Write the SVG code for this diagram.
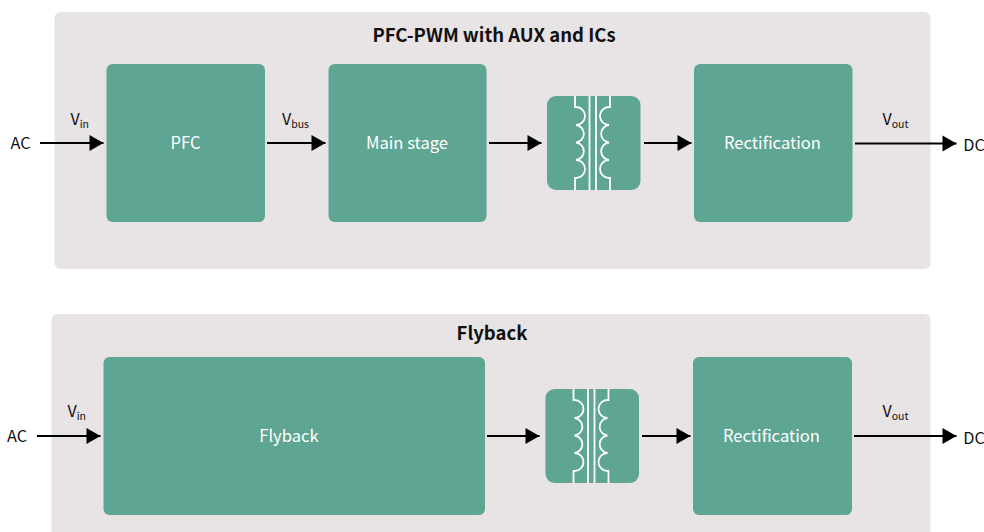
<svg xmlns="http://www.w3.org/2000/svg" width="984" height="532" viewBox="0 0 984 532">
<style>
text{font-family:"Noto Sans CJK SC","Source Sans Pro","Noto Sans",sans-serif;}
.panel{fill:#e8e3e4;}
.block{fill:#5ea593;}
.lbl{font-size:16.6px;fill:#fff;text-anchor:middle;}
.title{font-size:18.5px;font-weight:700;fill:#111;text-anchor:middle;}
.io{font-size:16.300px;fill:#111;text-anchor:middle;}
.v{font-size:16px;fill:#111;}
.sub{font-size:10.5px;}
.wire{stroke:#000;stroke-width:2;fill:none;marker-end:url(#arrow);}
.coil{stroke:#fff;stroke-width:1.800;fill:none;}
</style>
<defs>
<marker id="arrow" markerUnits="userSpaceOnUse" markerWidth="16" markerHeight="18" refX="14" refY="8" orient="auto" overflow="visible"><path d="M0 0L14 8L0 16Z" fill="#000"/></marker>
<g id="xfmr">
<rect width="93.500" height="94" rx="9" class="block"/>
<path class="coil" d="M28 0V11H29A8.800 8.800 0 0 1 29 29A8.800 8.800 0 0 1 29 46.500A8.800 8.800 0 0 1 29 64A8.800 8.800 0 0 1 29 82H28V94"/>
<path class="coil" d="M63 0V11H62A8.800 8.800 0 0 0 62 29A8.800 8.800 0 0 0 62 46.500A8.800 8.800 0 0 0 62 64A8.800 8.800 0 0 0 62 82H63V94"/>
<path class="coil" d="M42.500 0V94M49 0V94"/>
</g>
</defs>
<g id="panel-top"><rect class="panel" x="54.500" y="12" width="876" height="257" rx="6"/><text class="title" x="494" y="42">PFC-PWM with AUX and ICs</text></g>
<g id="panel-bottom"><rect class="panel" x="51.500" y="314" width="879" height="230" rx="6"/><text class="title" x="492" y="340">Flyback</text></g>
<g id="pfc"><rect class="block" x="106.500" y="64" width="158.500" height="158" rx="6"/><text class="lbl" x="185.500" y="149">PFC</text></g>
<g id="main-stage"><rect class="block" x="328.500" y="64" width="158" height="158" rx="6"/><text class="lbl" x="407" y="149">Main stage</text></g>
<g id="transformer-top"><use href="#xfmr" x="547" y="96"/></g>
<g id="rect-top"><rect class="block" x="694" y="64" width="158.500" height="158" rx="6"/><text class="lbl" x="772.500" y="149">Rectification</text></g>
<g id="flyback"><rect class="block" x="103.500" y="357" width="381.500" height="158" rx="6"/><text class="lbl" x="289" y="442">Flyback</text></g>
<g id="transformer-bottom"><use href="#xfmr" x="545.500" y="389"/></g>
<g id="rect-bottom"><rect class="block" x="693" y="357" width="159" height="158" rx="6"/><text class="lbl" x="771.500" y="442">Rectification</text></g>
<g id="connectors">
<path class="wire" d="M40 143H103.500"/>
<path class="wire" d="M267 143H325.500"/>
<path class="wire" d="M489 143H541.500"/>
<path class="wire" d="M644 143H691.500"/>
<path class="wire" d="M855 143.500H956.500"/>
<path class="wire" d="M37 436H100.500"/>
<path class="wire" d="M487 436H539.500"/>
<path class="wire" d="M642 436H690.500"/>
<path class="wire" d="M854 436H956.500"/>
</g>
<g id="labels">
<text class="io" x="20.500" y="149">AC</text>
<text class="io" x="974" y="151">DC</text>
<text class="io" x="17" y="442">AC</text>
<text class="io" x="974" y="444">DC</text>
<text class="v" x="70.500" y="125">V<tspan class="sub" dy="3">in</tspan></text>
<text class="v" x="282" y="125">V<tspan class="sub" dy="3">bus</tspan></text>
<text class="v" x="882.500" y="125">V<tspan class="sub" dy="3">out</tspan></text>
<text class="v" x="67.500" y="417">V<tspan class="sub" dy="3">in</tspan></text>
<text class="v" x="882.500" y="417">V<tspan class="sub" dy="3">out</tspan></text>
</g>
</svg>
